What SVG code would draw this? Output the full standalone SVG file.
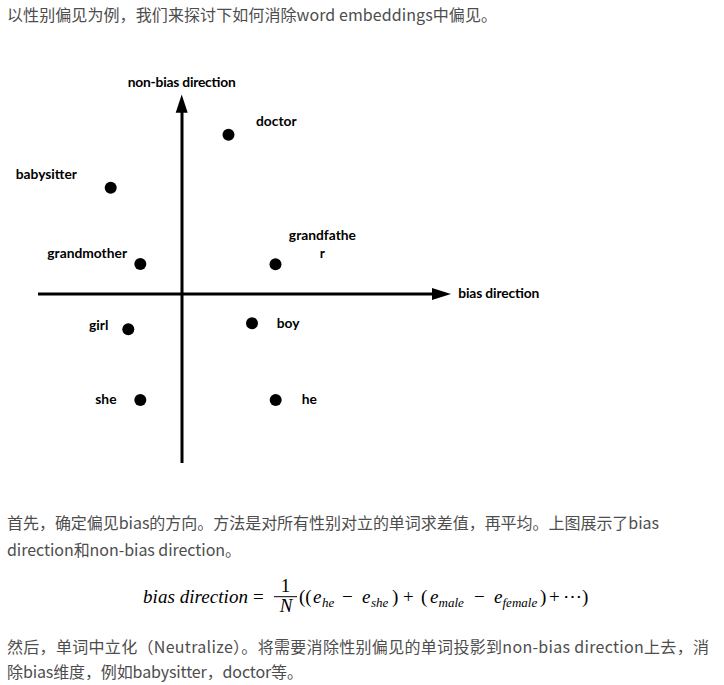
<svg xmlns="http://www.w3.org/2000/svg" width="724" height="685" viewBox="0 0 724 685">
<style>
.body{font-family:"Noto Sans CJK SC","Noto Sans",sans-serif;font-size:16px;fill:#4d4d4d;}
.lbl{font-family:Lato,"Liberation Sans",sans-serif;font-weight:bold;font-size:13.8px;fill:#000;}
.dot{fill:#000;}
.ax{stroke:#000;stroke-width:3;fill:none;}
.m{font-family:"Liberation Serif","DejaVu Serif",serif;font-size:19px;fill:#000;}
.mi{font-style:italic;}
.sub{font-family:"Liberation Serif","DejaVu Serif",serif;font-style:italic;font-size:13px;fill:#000;}
</style>
<rect width="724" height="685" fill="#fff"/>
<text class="body" x="7" y="21" textLength="490">以性别偏见为例，我们来探讨下如何消除word embeddings中偏见。</text>

<g id="connectors">
  <line class="ax" x1="38" y1="294" x2="434" y2="294"/>
  <polygon points="432,288 451,294 432,300" fill="#000"/>
  <line class="ax" x1="182" y1="463" x2="182" y2="110"/>
  <polygon points="175.7,112.7 181.7,94.5 187.7,112.7" fill="#000"/>
</g>
<g id="axis-labels">
  <text class="lbl" x="127.7" y="86.5" textLength="108">non-bias direction</text>
  <text class="lbl" x="458.3" y="297.5" textLength="81">bias direction</text>
</g>
<g id="node-doctor"><circle class="dot" cx="228.5" cy="134.8" r="6"/><text class="lbl" x="256" y="126">doctor</text></g>
<g id="node-babysitter"><circle class="dot" cx="110.7" cy="187.7" r="6"/><text class="lbl" x="15.7" y="179">babysitter</text></g>
<g id="node-grandmother"><circle class="dot" cx="140.3" cy="264" r="6"/><text class="lbl" x="47.3" y="257.5">grandmother</text></g>
<g id="node-grandfather"><circle class="dot" cx="275.5" cy="264.2" r="6"/><text class="lbl" text-anchor="middle" x="322.4" y="240">grandfathe</text><text class="lbl" text-anchor="middle" x="322.4" y="258">r</text></g>
<g id="node-girl"><circle class="dot" cx="128.3" cy="329.3" r="6"/><text class="lbl" x="89" y="330">girl</text></g>
<g id="node-boy"><circle class="dot" cx="252" cy="323.3" r="6"/><text class="lbl" x="276.7" y="327.5">boy</text></g>
<g id="node-she"><circle class="dot" cx="140.3" cy="400" r="6"/><text class="lbl" x="95.3" y="404">she</text></g>
<g id="node-he"><circle class="dot" cx="275.7" cy="400" r="6"/><text class="lbl" x="301.7" y="404">he</text></g>

<text class="body" x="7" y="529" textLength="652">首先，确定偏见bias的方向。方法是对所有性别对立的单词求差值，再平均。上图展示了bias</text>
<text class="body" x="7" y="556" textLength="234">direction和non-bias direction。</text>

<g id="formula">
  <text class="m mi" x="143" y="603" textLength="105">bias direction</text>
  <text class="m" x="253" y="603">=</text>
  <text class="m" x="285.5" y="592" text-anchor="middle" font-size="17">1</text>
  <line x1="274" y1="596.7" x2="297" y2="596.7" stroke="#000" stroke-width="1"/>
  <text class="m mi" x="286" y="612" text-anchor="middle" font-size="17">N</text>
  <text class="m" x="299" y="603">((</text>
  <text class="m mi" x="313" y="603">e</text><text class="sub" x="322" y="607">he</text>
  <text class="m" x="342" y="603">−</text>
  <text class="m mi" x="362" y="603">e</text><text class="sub" x="371" y="607">she</text>
  <text class="m" x="392" y="603">)</text>
  <text class="m" x="403" y="603">+</text>
  <text class="m" x="421" y="603">(</text>
  <text class="m mi" x="430" y="603">e</text><text class="sub" x="438.5" y="607">male</text>
  <text class="m" x="474" y="603">−</text>
  <text class="m mi" x="494" y="603">e</text><text class="sub" x="502.5" y="607">female</text>
  <text class="m" x="540" y="603">)</text>
  <text class="m" x="549" y="603">+</text>
  <text class="m" x="563" y="603" font-size="16">⋯</text>
  <text class="m" x="582" y="603">)</text>
</g>

<text class="body" x="7" y="653" textLength="702">然后，单词中立化（Neutralize）。将需要消除性别偏见的单词投影到non-bias direction上去，消</text>
<text class="body" x="7" y="678" textLength="296">除bias维度，例如babysitter，doctor等。</text>
</svg>
